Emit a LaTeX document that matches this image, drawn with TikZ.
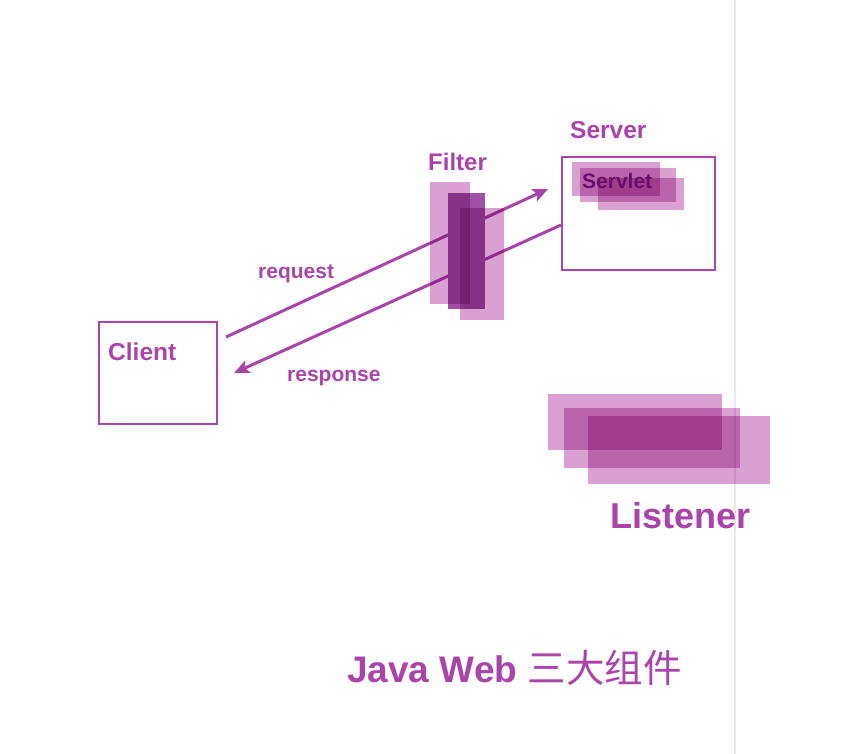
\documentclass[tikz,border=0pt]{standalone}
\usepackage{fontspec}
\setmainfont{Liberation Sans}
\newfontfamily\cjk{Noto Sans CJK SC}
\usetikzlibrary{arrows.meta}
\definecolor{webpurple}{HTML}{AA44AA}
\definecolor{glasslight}{HTML}{DAA0D2}
\definecolor{glassdeep}{HTML}{A050A5}
\definecolor{servletink}{HTML}{6A0E6C}
\tikzset{
  box/.style={draw=webpurple, line width=2pt, inner sep=0pt, anchor=north west},
  lbl/.style={anchor=base west, inner sep=0pt, text=webpurple},
  glass/.style={fill=glasslight},
  flow/.style={draw=webpurple, line width=3pt, -{Stealth[length=15pt,width=13pt,inset=3pt]}}
}
\begin{document}
\begin{tikzpicture}[x=1pt,y=-1pt]
  \useasboundingbox[fill=white] (0,0) rectangle (854,754);
  \draw[black!9, line width=1.5pt] (735,0) -- (735,754);

  % boxes
  \node[box, minimum width=118pt, minimum height=102pt] (client) at (98,321) {};
  \node[box, minimum width=153pt, minimum height=113pt] (server) at (561,156) {};

  % request / response
  \coordinate (reqfrom) at (226,337);
  \coordinate (reqto) at (548,189);
  \coordinate (resfrom) at (561,225);
  \coordinate (resto) at (234,373);
  \draw[flow] (reqfrom) -- (reqto);
  \draw[flow] (resfrom) -- (resto);

  % filter
  \fill[white] (448,193) rectangle (485,309);
  \begin{scope}[blend mode=multiply]
    \fill[glass] (430,182) rectangle (470,304);
    \fill[glass] (460,208) rectangle (504,320);
    \fill[glass, fill=glassdeep] (448,193) rectangle (485,309);

    % servlet
    \foreach \xa/\ya/\xb/\yb in {572/162/660/196, 580/168/676/202, 598/178/684/210} {
      \fill[glass] (\xa,\ya) rectangle (\xb,\yb);
    }

    % listener
    \foreach \xa/\ya/\xb/\yb in {548/394/722/450, 564/408/740/468, 588/416/770/484} {
      \fill[glass] (\xa,\ya) rectangle (\xb,\yb);
    }
  \end{scope}

  % labels
  \node[lbl, font=\bfseries\fontsize{24.5}{24.5}\selectfont] (clientlbl) at (108,360) {Client};
  \node[lbl, font=\bfseries\fontsize{24}{24}\selectfont] (filterlbl) at (428,171) {Filter};
  \node[lbl, font=\bfseries\fontsize{24.5}{24.5}\selectfont] (serverlbl) at (570,139) {Server};
  \node[lbl, text=servletink, font=\bfseries\fontsize{21}{21}\selectfont] (servletlbl) at (582,189) {Servlet};
  \node[lbl, font=\bfseries\fontsize{21}{21}\selectfont] (reqlbl) at (258,278) {request};
  \node[lbl, font=\bfseries\fontsize{21}{21}\selectfont] (reslbl) at (287,381) {response};
  \node[lbl, font=\bfseries\fontsize{36}{36}\selectfont] (listenerlbl) at (610,528) {Listener};
  \node[lbl, font=\fontsize{37}{37}\selectfont] (title) at (347,682) {{\bfseries Java Web} {\cjk\fontsize{38.5}{38.5}\selectfont 三大组件}};
\end{tikzpicture}
\end{document}
